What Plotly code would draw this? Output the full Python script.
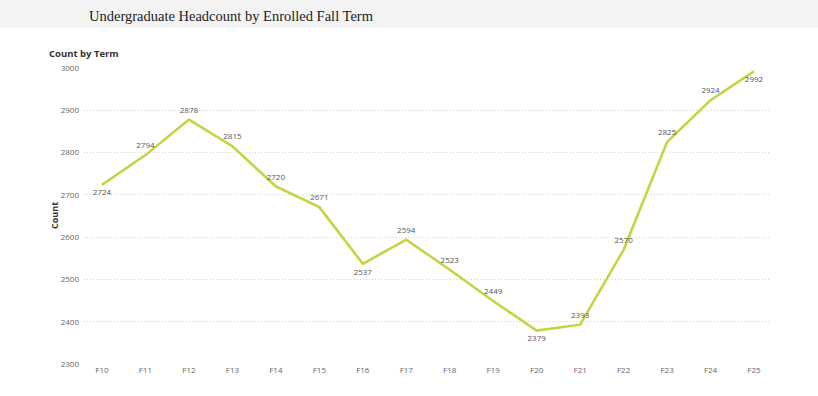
import plotly.graph_objects as go

terms = ["F10", "F11", "F12", "F13", "F14", "F15", "F16", "F17",
         "F18", "F19", "F20", "F21", "F22", "F23", "F24", "F25"]
counts = [2724, 2794, 2878, 2815, 2720, 2671, 2537, 2594,
          2523, 2449, 2379, 2393, 2570, 2825, 2924, 2992]
label_pos = ["bottom center", "top center", "top center", "top center",
             "top center", "top center", "bottom center", "top center",
             "top center", "top center", "bottom center", "top center",
             "top center", "top center", "top center", "bottom center"]
y_ticks = [2300, 2400, 2500, 2600, 2700, 2800, 2900, 3000]

W, H = 818, 396
L, R, T, B = 84, 48, 68, 32
pw, ph = W - L - R, H - T - B

def px(x):
    return (x - L) / pw

def py(y):
    return (H - B - y) / ph

fig = go.Figure()
fig.add_trace(go.Scatter(
    x=list(range(len(terms))), y=counts, mode="lines+markers+text",
    line=dict(color="#C6D23E", width=2.5),
    marker=dict(size=6, color="rgba(0,0,0,0)"),
    text=[str(c) for c in counts], textposition=label_pos,
    textfont=dict(family="Open Sans", size=8, color="#555555"),
    cliponaxis=False, hoverinfo="skip", showlegend=False,
))

fig.update_layout(
    width=W, height=H,
    margin=dict(l=L, r=R, t=T, b=B),
    paper_bgcolor="white", plot_bgcolor="white",
    xaxis=dict(
        range=[-0.414, 15.368], tickmode="array",
        tickvals=list(range(len(terms))), ticktext=terms,
        showgrid=False, zeroline=False, showline=False, ticks="",
        tickfont=dict(family="Open Sans", size=8, color="#666666"),
        fixedrange=True,
    ),
    yaxis=dict(
        range=[2300, 3000], tickvals=y_ticks,
        showgrid=True, gridcolor="#d0d0d0", griddash="1px,2px", gridwidth=1,
        zeroline=False, showline=False, ticks="",
        tickfont=dict(family="Open Sans", size=8, color="#666666"),
        ticklabelstandoff=4, fixedrange=True,
    ),
    shapes=[dict(
        type="rect", xref="paper", yref="paper",
        x0=px(0), x1=px(W), y0=py(28), y1=py(0),
        fillcolor="#f3f3f3", line=dict(width=0), layer="below",
    )],
    annotations=[
        dict(text="Undergraduate Headcount by Enrolled Fall Term",
             xref="paper", yref="paper", x=px(87), y=py(16),
             xanchor="left", yanchor="middle", showarrow=False,
             font=dict(family="Liberation Serif", size=14.5, color="#222222")),
        dict(text="<b>Count by Term</b>",
             xref="paper", yref="paper", x=px(47), y=py(53),
             xanchor="left", yanchor="middle", showarrow=False,
             font=dict(family="Open Sans", size=9.5, color="#333333")),
        dict(text="<b>Count</b>", textangle=-90,
             xref="paper", yref="paper", x=px(54), y=py(216),
             xanchor="center", yanchor="middle", showarrow=False,
             font=dict(family="Open Sans", size=9, color="#333333")),
    ],
)

fig.write_html("out.html", config={"displayModeBar": False},
               post_script="document.body.style.margin='0';document.body.style.overflow='hidden';")
